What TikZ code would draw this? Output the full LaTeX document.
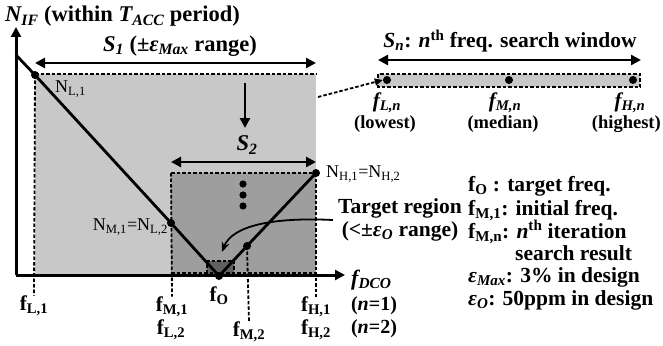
\documentclass[tikz,border=0pt]{standalone}
\usepackage{fontspec}
\setmainfont{Liberation Serif}
\usetikzlibrary{arrows.meta,calc}

\definecolor{winlight}{RGB}{200,200,200}
\definecolor{windark}{RGB}{158,158,158}
\definecolor{wintarget}{RGB}{96,96,96}
\newcommand{\sbs}[1]{\textsubscript{#1}}
\newcommand{\eps}{\textit{ε}}

\tikzset{
	lbl/.style={font=\fontsize{21}{23}\selectfont\bfseries, inner sep=0pt},
	keylbl/.style={font=\fontsize{21.5}{23}\selectfont\bfseries, inner sep=0pt, anchor=base west},
	nlbl/.style={font=\fontsize{18}{20}\selectfont, inner sep=0pt},
	dot/.style={circle, fill=black, inner sep=0pt, minimum size=8pt},
	guide/.style={line width=1.8pt, dash pattern=on 3.5pt off 2pt},
	axis/.style={line width=3pt},
	vline/.style={line width=2.8pt},
	span/.style={line width=2.8pt},
}

\begin{document}
\begin{tikzpicture}[x=1pt, y=-1pt, >={Triangle[length=10pt,width=10pt]}, font=\fontsize{21}{23}\selectfont\bfseries]
		\useasboundingbox (0,0) rectangle (663,345);
		% search windows S1, S2 and target region
		\fill[winlight] (35,74) rectangle (316,275);
		\fill[windark] (171,173) rectangle (316,275);
		\fill[wintarget] (207,261) rectangle (234,275);
		\draw[guide] (35,74) -- (316,74);
		\draw[guide] (171,173) -- (316,173);
		\draw[guide] (171,273) -- (316,273);
		\draw[guide] (207,273) -- (207,261) -- (234,261) -- (234,273);
		% axes
		\coordinate (O) at (16,275);
		\coordinate (ytip) at (16,27);
		\coordinate (xtip) at (345,275);
		\draw[axis,->] (O) -- (ytip);
		\draw[axis,->] (O) -- (xtip);
		\node[lbl, font=\fontsize{22.5}{24}\selectfont\bfseries, anchor=base west] (title) at (5,22) {\textit{N\sbs{IF}} (within \textit{T\sbs{ACC}} period)};
		\node[lbl, font=\fontsize{22}{24}\selectfont\bfseries\itshape, anchor=west] (fdco) at (351,280) {f\sbs{DCO}};
		% frequency marks
		\node[lbl] (fL1) at (34,306) {f\sbs{L,1}};
		\node[lbl] (fM1) at (172,307) {f\sbs{M,1}};
		\node[lbl] (fL2) at (171,330) {f\sbs{L,2}};
		\node[lbl] (fO) at (219,296) {f\sbs{O}};
		\node[lbl] (fM2) at (249,332) {f\sbs{M,2}};
		\node[lbl] (fH1) at (316,307) {f\sbs{H,1}};
		\node[lbl] (fH2) at (316,330) {f\sbs{H,2}};
		\node[lbl, font=\fontsize{20}{22}\selectfont\bfseries] (n1) at (374,306) {(\textit{n}=1)};
		\node[lbl, font=\fontsize{20}{22}\selectfont\bfseries] (n2) at (374,329) {(\textit{n}=2)};
		% points on the V curve
		\coordinate (vtop) at (16,55);
		\node[dot] (NL1) at (35,75) {};
		\node[dot] (NM1) at (171,223) {};
		\node[dot] (fOdot) at (219,276) {};
		\node[dot] (NM2) at (247,246) {};
		\node[dot] (NH1) at (316,173) {};
		\draw[guide] (NL1.center) -- (fL1.north);
		\draw[guide] (NH1.center) -- (fH1.north);
		\draw[guide] (171,173) -- (fM1.north);
		\draw[guide] (NM2.center) -- (fM2.north);
		\draw[vline] (vtop) -- (NL1.center) -- (NM1.center) -- (fOdot.center) -- (NM2.center) -- (NH1.center);
		\node[nlbl, anchor=west] (nl1lbl) at (55,89) {N\sbs{L,1}};
		\node[nlbl, anchor=east] (nm1lbl) at (168,227) {N\sbs{M,1}=N\sbs{L,2}};
		\node[nlbl, anchor=west] (nh1lbl) at (326,174) {N\sbs{H,1}=N\sbs{H,2}};
		% window spans
		\coordinate (s1l) at (35,63);
		\coordinate (s1r) at (316,63);
		\draw[span,<->] (s1l) -- (s1r);
		\node[lbl, font=\fontsize{22.5}{24}\selectfont\bfseries] (s1lbl) at (180,46) {\textit{S\sbs{1}} (±\eps\sbs{\textit{Max}} range)};
		\coordinate (down1) at (245,83);
		\coordinate (down2) at (245,128);
		\draw[span,->] (down1) -- (down2);
		\coordinate (s2l) at (171,162);
		\coordinate (s2r) at (316,162);
		\draw[span,<->] (s2l) -- (s2r);
		\node[lbl, font=\fontsize{22.5}{24}\selectfont\bfseries] (s2lbl) at (247,145) {\textit{S\sbs{2}}};
		\foreach \y in {184,195,206}
			\fill (243,\y) circle (3.6pt);
		% target region
		\node[lbl, font=\fontsize{21.5}{23}\selectfont\bfseries, align=center] (tgt) at (400,220) {Target region\\[0pt](<±\eps\sbs{\textit{O}} range)};
		\coordinate (tgtstart) at (333,220);
		\coordinate (tgtend) at (222,252);
		\draw[line width=1.8pt,->,>={Stealth[length=10pt,width=8pt]}] (tgtstart) .. controls (272,217) and (232,226) .. (tgtend);
		% n-th search window
		\fill[winlight] (378,74) rectangle (640,87);
		\draw[guide] (378,74) rectangle (640,87);
		\node[dot] (fLn) at (387,80) {};
		\node[dot] (fMn) at (509,80) {};
		\node[dot] (fHn) at (633,80) {};
		\coordinate (snl) at (378,60);
		\coordinate (snr) at (641,60);
		\draw[span,<->] (snl) -- (snr);
		\node[lbl, font=\fontsize{21.5}{23}\selectfont\bfseries] (snlbl) at (510,41) {\textit{S\sbs{n}}: \textit{n}\textsuperscript{th} freq. search window};
		\node[lbl, font=\fontsize{21}{23}\selectfont\bfseries\itshape] (fLnlbl) at (387,103) {f\sbs{L,n}};
		\node[lbl, font=\fontsize{21}{23}\selectfont\bfseries\itshape] (fMnlbl) at (505,103) {f\sbs{M,n}};
		\node[lbl, font=\fontsize{21}{23}\selectfont\bfseries\itshape] (fHnlbl) at (630,103) {f\sbs{H,n}};
		\node[lbl, font=\fontsize{18.5}{20}\selectfont\bfseries] (lowest) at (385,124) {(lowest)};
		\node[lbl, font=\fontsize{18.5}{20}\selectfont\bfseries] (median) at (503,124) {(median)};
		\node[lbl, font=\fontsize{18.5}{20}\selectfont\bfseries, anchor=east] (highest) at (661,124) {(highest)};
		\coordinate (linkstart) at (318,97);
		\draw[guide,->,>={Triangle[length=8pt,width=7pt]}] (linkstart) -- (fLn.west);
		% legend
		\node[keylbl] (k1) at (468,191) {f\sbs{O} : target freq.};
		\node[keylbl] (k2) at (468,215) {f\sbs{M,1}: initial freq.};
		\node[keylbl] (k3) at (468,238) {f\sbs{M,n}: \textit{n}\textsuperscript{th} iteration};
		\node[keylbl] (k4) at (515,260) {search result};
		\node[keylbl] (k5) at (468,282) {\eps\sbs{\textit{Max}}: 3\% in design};
		\node[keylbl] (k6) at (468,305) {\eps\sbs{\textit{O}}: 50ppm in design};
	\end{tikzpicture}
\end{document}
